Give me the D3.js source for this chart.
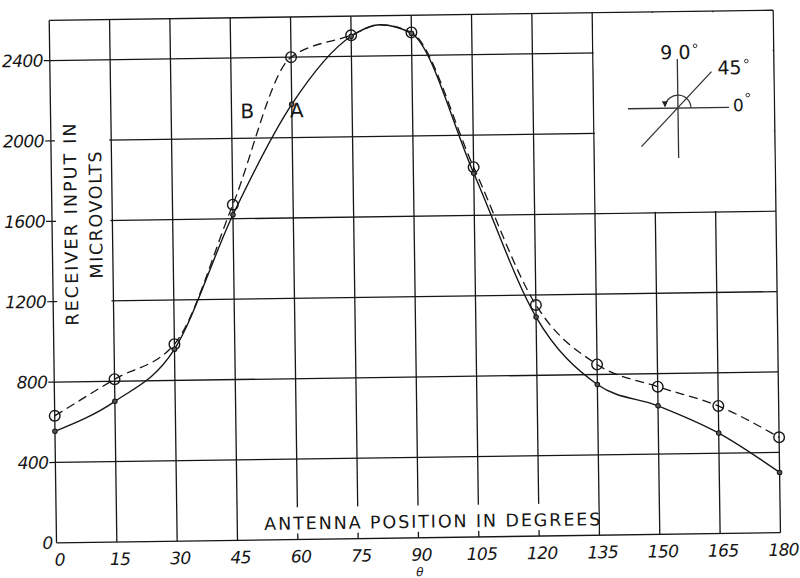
<!DOCTYPE html>
<html><head><meta charset="utf-8">
<script src="https://cdn.jsdelivr.net/npm/d3@7"></script>
<style>
body{margin:0;background:#fff;}
svg{display:block;}
text{font-family:"DejaVu Sans",sans-serif;fill:#161616;}
</style></head>
<body>
<svg id="c" width="800" height="578"></svg>
<script>
// ---- data ----
const angles = [0,15,30,45,60,75,90,105,120,135,150,165,180];
const seriesA = [555,700,955,1620,2165,2500,2510,1810,1090,750,640,500,300];
const seriesB = [632,810,980,1670,2400,2505,2515,1840,1150,850,735,635,475];
const peakAngle = 82, peakValue = 2555;
const xTicks = [0,15,30,45,60,75,90,105,120,135,150,165,180];
const yTicks = [0,400,800,1200,1600,2000,2400];
const yLabelLines = ["RECEIVER INPUT IN","MICROVOLTS"];
const xLabel = "ANTENNA POSITION IN DEGREES";
const thetaLabel = "θ";
const curveNames = ["A","B"];
const insetLabels = ["9 0","45","0"];

// ---- layout ----
const root = d3.select("#c");
// the scanned sheet is slightly rotated
const svg = root.append("g").attr("transform","rotate(-0.8,400,289)");
const x = d3.scaleLinear().domain([0,180]).range([53,777]);
const y = d3.scaleLinear().domain([0,2600]).range([538,15.5]);
const ink = "#161616";

// grid
const g = svg.append("g").attr("stroke",ink).attr("stroke-width",1.3).attr("fill","none");
xTicks.forEach(t=>{
  g.append("line").attr("x1",x(t)).attr("x2",x(t)).attr("y1",y(0)).attr("y2",y(2600));
});
yTicks.concat([2600]).forEach(t=>{
  g.append("line").attr("x1",x(0)).attr("x2",x(180)).attr("y1",y(t)).attr("y2",y(t));
});
// white areas: inset, y-label, x-label
svg.append("rect").attr("x",x(135)+1).attr("y",y(2600)+1)
  .attr("width",x(180)-x(135)-2).attr("height",y(1600)-y(2600)-2).attr("fill","#fff");
svg.append("rect").attr("x",x(0)+4).attr("y",y(2200)).attr("width",x(15)-x(0)-6)
  .attr("height",y(1000)-y(2200)).attr("fill","#fff");
svg.append("rect").attr("x",255).attr("y",y(160)).attr("width",x(135)-256)
  .attr("height",y(30)-y(160)).attr("fill","#fff");

// y ticks + labels
yTicks.forEach(t=>{
  if(t>0) svg.append("line").attr("x1",x(0)-6).attr("x2",x(0)).attr("y1",y(t)).attr("y2",y(t))
    .attr("stroke",ink).attr("stroke-width",1.2);
  svg.append("text").attr("x",x(0)-(t>0?7:4)).attr("y",y(t)+6).attr("text-anchor","end")
    .attr("font-size",17).attr("font-style","italic")
    .attr("letter-spacing",-0.6).text(t);
});
// x tick labels
xTicks.forEach(t=>{
  svg.append("text").attr("x",x(t)+3).attr("y",561).attr("text-anchor","middle")
    .attr("font-size",17).attr("font-style","italic")
    .attr("letter-spacing",-0.6).text(t);
});
svg.append("text").attr("x",x(90)+1).attr("y",576.5).attr("text-anchor","middle")
  .attr("font-size",12).attr("font-style","italic").text(thetaLabel);

// axis titles
svg.append("text").attr("transform",`translate(${x(0)+25},219) rotate(-90)`)
  .attr("text-anchor","middle").attr("font-size",17.5)
  .attr("letter-spacing",2.1).text(yLabelLines[0]);
svg.append("text").attr("transform",`translate(${x(0)+50},210) rotate(-90)`)
  .attr("text-anchor","middle").attr("font-size",17.5)
  .attr("letter-spacing",1.6).text(yLabelLines[1]);
svg.append("text").attr("x",430).attr("y",528).attr("text-anchor","middle")
  .attr("font-size",17.5).attr("letter-spacing",1.9).text(xLabel);

// curves
function pts(vals){
  const p = angles.map((a,i)=>[a,vals[i]]);
  p.push([peakAngle,peakValue]);
  return p.sort((a,b)=>a[0]-b[0]);
}
const line = d3.line().x(d=>x(d[0])).y(d=>y(d[1])).curve(d3.curveMonotoneX);
svg.append("path").attr("d",line(pts(seriesA))).attr("fill","none")
  .attr("stroke",ink).attr("stroke-width",1.4);
svg.append("path").attr("d",line(pts(seriesB))).attr("fill","none")
  .attr("stroke",ink).attr("stroke-width",1.3).attr("stroke-dasharray","9,5");

// markers
svg.append("g").selectAll("circle").data(angles).join("circle")
  .attr("cx",d=>x(d)).attr("cy",(d,i)=>y(seriesB[i])).attr("r",5.3)
  .attr("fill","none").attr("stroke",ink).attr("stroke-width",1.4);
svg.append("g").selectAll("circle").data(angles).join("circle")
  .attr("cx",d=>x(d)).attr("cy",(d,i)=>y(seriesA[i])).attr("r",2.3)
  .attr("fill","#555").attr("stroke",ink).attr("stroke-width",1);

// curve labels
svg.append("text").attr("x",x(60)-2).attr("y",y(2150)+10).attr("font-size",20)
  .text(curveNames[0]);
svg.append("text").attr("x",x(45)+9).attr("y",y(2150)+10).attr("font-size",20)
  .text(curveNames[1]);

// inset diagram
const cx = x(156), cy = y(2120);
const ig = svg.append("g").attr("stroke","#333").attr("stroke-width",1.3).attr("fill","none");
ig.append("line").attr("x1",cx).attr("x2",cx).attr("y1",cy-49).attr("y2",cy+50);
ig.append("line").attr("x1",cx-50).attr("x2",cx+51).attr("y1",cy).attr("y2",cy);
ig.append("line").attr("x1",cx-37).attr("x2",cx+34).attr("y1",cy+38).attr("y2",cy-36);
ig.append("path").attr("d",d3.arc()({innerRadius:13,outerRadius:13,startAngle:-Math.PI/2+0.15,endAngle:Math.PI/2}))
  .attr("transform",`translate(${cx},${cy})`);
svg.append("path").attr("d",`M${cx-16},${cy-7} L${cx-10},${cy-7} L${cx-13},${cy-1} Z`).attr("fill","#222");
svg.append("text").attr("x",cx-17).attr("y",cy-49).attr("font-size",19).text(insetLabels[0]);
svg.append("text").attr("x",cx+40).attr("y",cy-33).attr("font-size",19).text(insetLabels[1]);
svg.append("text").attr("x",cx+55).attr("y",cy+4).attr("font-size",17).text(insetLabels[2]);
[[cx+18,cy-62],[cx+69,cy-46],[cx+70,cy-12]].forEach(p=>{
  svg.append("circle").attr("cx",p[0]).attr("cy",p[1]).attr("r",1.8).attr("fill","none")
    .attr("stroke","#222").attr("stroke-width",0.9);
});
</script>
</body></html>
